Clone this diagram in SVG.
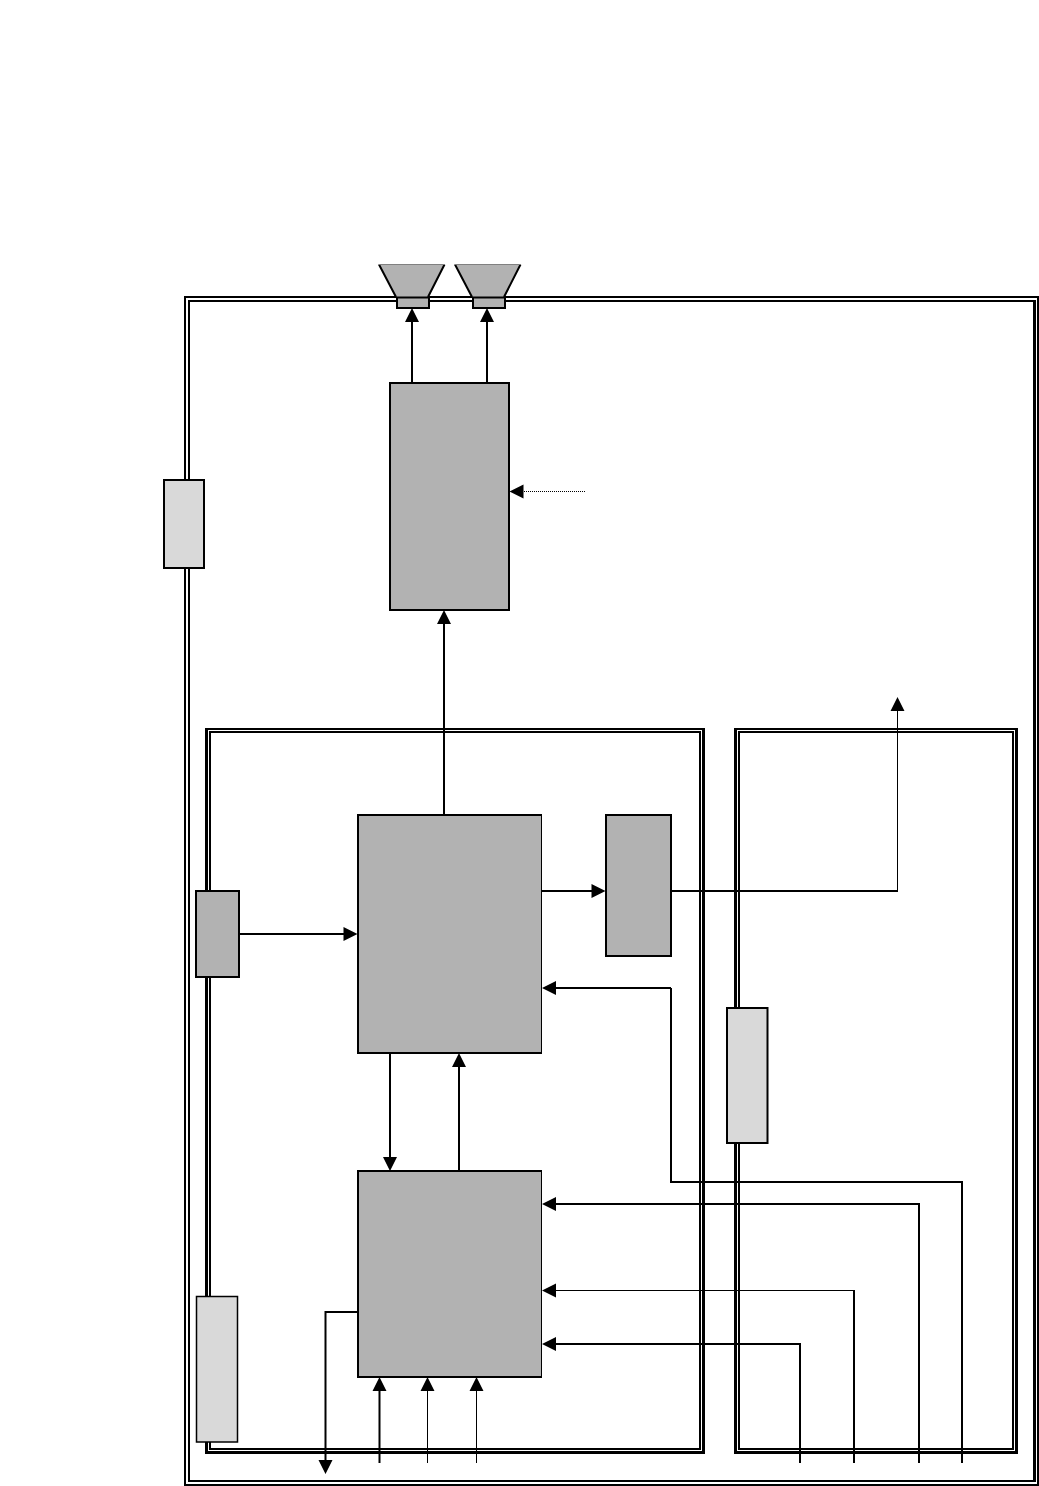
<svg xmlns="http://www.w3.org/2000/svg" width="1039" height="1486" viewBox="0 0 1039 1486">
<style>
.frame{fill:#000;fill-rule:evenodd}
.dark{fill:#b2b2b2;stroke:#000;stroke-width:2}
.gray{fill:#b2b2b2}
.light{fill:#d9d9d9;stroke:#000;stroke-width:2}
.c{fill:none;stroke:#000;stroke-width:2}
.t{fill:none;stroke:#000;stroke-width:1}
.top{fill:none;stroke:#808080;stroke-width:1}
.h{fill:#000}
</style>
<rect width="1039" height="1486" fill="#fff"/>
<g id="outer-frame">
<path class="frame" d="M184 296H1039V1486H184ZM186 298V1484H1037V298Z"/>
<path class="frame" d="M188 300H1036V1482H188ZM190 302V1480H1033V302Z"/>
</g>
<g id="left-frame">
<path class="frame" d="M205 728H705V1454H205ZM208 730V1451H702V730Z"/>
<path class="frame" d="M209 731H701V1450H209ZM211 733V1448H699V733Z"/>
</g>
<g id="right-frame">
<path class="frame" d="M734 728H1018V1454H734ZM737 730V1451H1015V730Z"/>
<path class="frame" d="M738 731H1014V1450H738ZM740 733V1448H1012V733Z"/>
</g>
<g id="connectors">
<path class="c" d="M412 383V320M487 383V320M444 815V622M542 891H594M671 891H898M240 934H346M390 1053V1159M459 1171V1065M671 988H554M671 988V1182H962V1463M919 1463V1204H554M800 1463V1344H554M358 1312H325.500V1462M379.500 1463V1389M854 1463V1290"/>
<path class="t" d="M897.500 891V709M854 1290.500H554M427.500 1463V1389M476.500 1463V1389"/>
<path class="t" stroke-dasharray="1 1" d="M585 491.500H522"/>
<path class="h" d="M412 308l-7 14h14zM487 308l-7 14h14zM444 610l-7 14h14zM605.500 891l-14-7v14zM897.500 697l-7 14h14zM357.500 934l-14-7v14zM390 1171l-7-14h14zM459 1053l-7 14h14zM542 988l14-7v14zM542 1204l14-7v14zM542 1290.500l14-7v14zM542 1344l14-7v14zM325.500 1474l-7-14h14zM379.500 1377l-7 14h14zM427.500 1377l-7 14h14zM476.500 1377l-7 14h14zM509.500 491.500l14-7v14z"/>
</g>
<g id="speaker-left">
<path class="gray" d="M378.500 264.500H445L428.500 297H396Z"/>
<path class="c" d="M379 264.500L396 297M444.500 264.500L428 297"/>
<path class="top" d="M378.500 264.500H445"/>
<rect class="dark" x="397" y="297.500" width="32" height="10.500"/>
</g>
<g id="speaker-right">
<path class="gray" d="M454.500 264.500H521L504.500 297H472Z"/>
<path class="c" d="M455 264.500L472 297M520.500 264.500L504 297"/>
<path class="top" d="M454.500 264.500H521"/>
<rect class="dark" x="473" y="297.500" width="32" height="10.500"/>
</g>
<g id="amp"><rect class="dark" x="390" y="383" width="119" height="227"/></g>
<g id="tag-outer"><rect class="light" x="164" y="480" width="40" height="88"/></g>
<g id="block-upper">
<rect class="gray" x="358" y="815" width="183" height="238"/>
<path class="c" d="M541.500 815H358V1053H541.500"/>
<path class="t" d="M541.500 814V1054"/>
</g>
<g id="block-side"><rect class="dark" x="606" y="815" width="65" height="141"/></g>
<g id="block-small"><rect class="dark" x="196" y="891" width="43" height="86"/></g>
<g id="block-lower">
<rect class="gray" x="358" y="1171" width="183" height="206"/>
<path class="c" d="M541.500 1171H358V1377H541.500"/>
<path class="t" d="M541.500 1170V1378"/>
</g>
<g id="tag-left"><rect class="light" style="stroke-width:1.500" x="196.500" y="1296.500" width="41" height="145.500"/></g>
<g id="tag-right"><rect class="light" x="727" y="1008" width="40.500" height="135"/></g>
</svg>
